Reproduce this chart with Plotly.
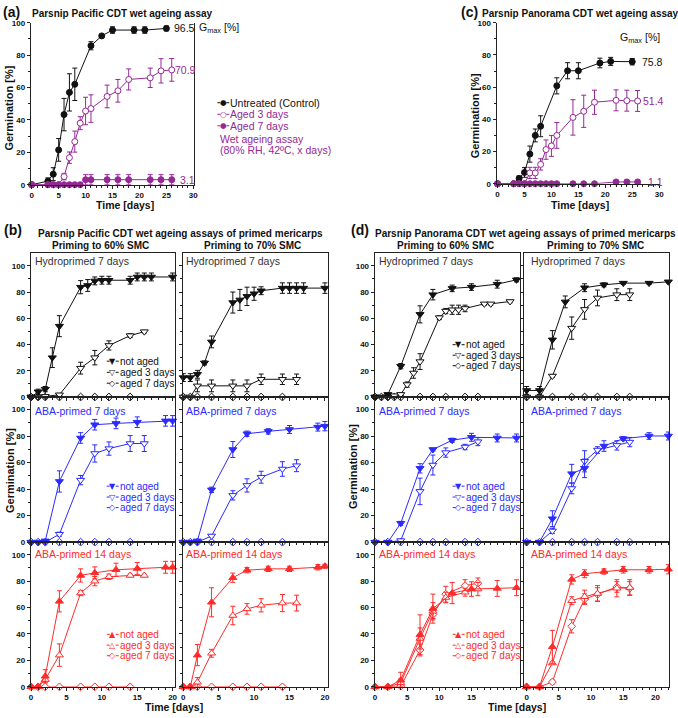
import plotly.graph_objects as go

# ---------------- data ----------------
# (a) Parsnip Pacific CDT wet ageing assay
a_days_ctrl = [0, 3, 4, 5, 6, 7, 8, 11, 13, 15, 19, 21, 25]
a_ctrl = [0, 2.2, 6.5, 21.5, 43.3, 57, 62, 85.8, 91.9, 95.5, 95.5, 95.5, 96.5]
a_ctrl_err = [0, 2, 4, 7, 10, 11.5, 10, 2.5, 1, 2, 2, 2, 1.5]
a_days_aged = [0, 3, 4, 5, 6, 7, 8, 9, 10, 11, 14, 16, 18, 22, 24, 26]
a_aged3 = [0, 0, 0, 0, 5, 16.7, 26.6, 38, 45.5, 47, 54.5, 58, 65, 66, 70.3, 70.9]
a_aged3_err = [0, 0, 0, 0, 2, 3.5, 6.5, 4, 8.5, 8.5, 7, 7, 6.5, 6, 7.5, 7]
a_aged7 = [0, 0, 0, 0, 0, 0, 0, 0, 3.1, 3.1, 3.1, 3.1, 3.1, 3.1, 3.1, 3.1]
a_aged7_err = [0, 0, 0, 0, 0, 0, 0, 0, 3.1, 3.1, 3.1, 3.1, 3.1, 3.1, 3.1, 3.1]
a_gmax = ["96.5", "70.9", "3.1"]

# (c) Parsnip Panorama CDT wet ageing assay
c_days_ctrl = [0, 3, 4, 5, 6, 7, 8, 11, 13, 15, 19, 21, 25]
c_ctrl = [0, 0, 3.3, 7, 18.4, 30, 35.7, 60.8, 70.2, 70.2, 75, 76, 75.8]
c_ctrl_err = [0, 0, 1.5, 3, 5, 4, 6.5, 5, 5, 5, 3, 2.5, 2]
c_days_aged = [0, 3, 4, 5, 6, 7, 8, 9, 10, 11, 14, 16, 18, 22, 24, 26]
c_aged3 = [0, 0, 0, 0, 6.7, 6.7, 12, 21.2, 23.5, 30, 41.2, 45, 50.6, 51.8, 51.6, 51.4]
c_aged3_err = [0, 0, 0, 0, 3.5, 3.5, 3.5, 6, 6.5, 8, 11, 10, 7.5, 6.5, 6.5, 6.5]
c_aged7 = [0, 0, 0, 0, 0, 0, 0, 0, 0, 0, 0, 0, 0, 1.1, 1.1, 1.1]
c_aged7_err = [0, 0, 0, 0, 0, 0, 0, 0, 0, 0, 0, 0, 0, 1, 1, 1]
c_gmax = ["75.8", "51.4", "1.1"]

# (b) Parsnip Pacific primed mericarps
b_days_na = [0, 1, 2, 4, 7, 9, 12, 15, 19, 20]
b_days_hna = [0, 1, 2, 3, 4, 7, 8, 9, 10, 11, 14, 15, 16, 17, 20]
b_days_a3 = [0, 1, 2, 4, 7, 9, 11, 14, 16]
b_days_a7 = [0, 1, 2, 4, 7, 9, 11, 14]
b_a7 = [0, 0, 0, 0, 0, 0, 0, 0]

b_h60_na = [0, 4, 6, 30, 54, 83.7, 85, 88.5, 89, 89, 89, 91.5, 91.5, 91.5, 91.5]
b_h60_na_err = [0, 2, 2, 7.5, 8, 5, 4.5, 3, 3, 3, 3, 3, 3, 3, 3]
b_h60_a3 = [0, 0, 0.5, 1.7, 22, 30, 39.3, 46.8, 49.8]
b_h60_a3_err = [0, 0, 0, 1, 4.5, 5.5, 3.5, 1.5, 1]
b_h70_na = [14.8, 14.8, 17.3, 26, 42, 72, 74, 76.7, 78.7, 81, 83, 83, 83, 83, 83]
b_h70_na_err = [3, 3, 3, 1.5, 4.5, 8, 8, 7, 5, 3, 4, 4, 4, 4, 4]
b_h70_a3 = [0, 0, 8.5, 8.5, 8.5, 8.5, 13.5, 13.5, 13.5]
b_h70_a3_err = [0, 0, 4.5, 4.5, 4.5, 4.5, 4, 4, 4]

b_b760_na = [0, 0, 1, 45.8, 78.6, 88.6, 89.6, 90.5, 91.5, 91.5]
b_b760_na_err = [0, 0, 1, 8, 4, 4, 4, 4, 4, 4]
b_b760_a3 = [0, 0, 0, 6, 46.8, 66.9, 70.6, 74.4, 74.4]
b_b760_a3_err = [0, 0, 0, 1.5, 3.5, 6.5, 5, 6, 6]
b_b770_na = [0, 0, 1, 39.5, 69.9, 81.8, 83.6, 85, 86.8, 87.5]
b_b770_na_err = [0, 0, 1, 2, 6, 2, 2, 3, 3, 3.5]
b_b770_a3 = [0, 0, 0, 4.7, 35.3, 42.8, 49, 55.2, 57.7]
b_b770_a3_err = [0, 0, 0, 1, 3.5, 5, 4.5, 5.5, 4.5]

b_b1460_na = [0, 0, 8, 64.7, 84.3, 86.3, 88.6, 89.6, 90.5, 90.5]
b_b1460_na_err = [0, 0, 5, 8, 5, 4.5, 5, 4.5, 4.5, 4.5]
b_b1460_a3 = [0, 0, 5.5, 24, 71, 80, 83.3, 84.3, 84.3]
b_b1460_a3_err = [0, 0, 2, 8.5, 2, 3.5, 2, 1, 1]
b_b1470_na = [0, 0, 24, 64, 82.6, 88.3, 89.3, 89.3, 90.5, 91.3]
b_b1470_na_err = [0, 0, 8, 11, 3.5, 2, 2, 2, 2, 1.5]
b_b1470_a3 = [0, 0, 3.5, 25.4, 54, 59, 61.7, 63.4, 63.4]
b_b1470_a3_err = [0, 0, 3.5, 3, 7, 4, 5, 6.5, 6]

# (d) Parsnip Panorama primed mericarps
d_days_na = [0, 2, 4, 7, 9, 12, 15, 19, 22]
d_days_a3 = [0, 2, 4, 7, 9, 11, 14, 16]
d_days_a7 = [0, 2, 4, 7, 9, 11, 14, 16]
d_a7_zero = [0, 0, 0, 0, 0, 0, 0, 0]

d_h60_na = [0, 2, 23.5, 63, 78, 82.8, 83.8, 86, 89.3]
d_h60_na_err = [0, 1, 2, 6.5, 4, 2.5, 2.5, 3, 1.5]
d_h60_days_a3 = [0, 1, 2, 3, 4, 5, 6, 7, 10, 11, 12, 13, 14, 17, 18, 21]
d_h60_a3 = [0, 0, 0, 1, 2, 9.5, 18.3, 27, 60.5, 65.5, 66.5, 66.5, 67.5, 71, 71, 72.8]
d_h60_a3_err = [0, 0, 0, 0.5, 1, 2, 4, 6, 1.5, 2, 3.5, 3.5, 2.5, 1, 1, 1]
d_h60_days_a7 = [0, 1, 2, 3, 4, 7, 9, 11, 14, 16]
d_h60_a7 = [0, 0, 0, 0, 0, 0, 0, 0, 0, 0]
d_h70_days_na = [0, 2, 4, 6, 9, 12, 15, 19, 22]
d_h70_na = [5, 5, 43.6, 72.5, 83.3, 85.5, 86.8, 86.8, 87.8]
d_h70_na_err = [3, 3, 7, 4.5, 3, 1.5, 1, 1, 1]
d_h70_a3 = [0, 0, 16, 52.5, 66.8, 75.5, 78, 78]
d_h70_a3_err = [0, 0, 1, 8.5, 7.5, 6, 4.5, 4.5]

d_b760_na = [0, 0, 14.2, 55.7, 69.9, 76.9, 79.1, 78.6, 78.6]
d_b760_na_err = [0, 0, 1.5, 3.5, 1, 1.5, 3, 3, 3]
d_b760_a3 = [0, 0, 1.2, 38.3, 58.2, 67.6, 71.8, 75.8]
d_b760_a3_err = [0, 0, 1, 10, 7.5, 3.5, 2, 3]
d_b770_na = [0, 0, 17.7, 51.7, 55.7, 72.5, 78.1, 80.1, 80.1]
d_b770_na_err = [0, 0, 6, 7, 7, 4, 1.5, 2.5, 3]
d_b770_a3 = [0, 0, 8.5, 40.5, 61, 69.5, 73, 75.5]
d_b770_a3_err = [0, 0, 2, 4, 8, 2.5, 3.5, 3.5]

d_b1460_na = [0, 0, 5, 39.5, 59.2, 71, 74, 74.5, 75]
d_b1460_na_err = [0, 0, 6, 15, 11, 8, 5.5, 6, 6]
d_b1460_a3 = [0, 0, 3, 36.6, 57.2, 67.6, 71.6, 74]
d_b1460_a3_err = [0, 0, 3, 8, 6.5, 4, 3, 5]
d_b1460_a7 = [0, 0, 0.5, 27.9, 54.7, 70.1, 76.6, 78.4]
d_b1460_a7_err = [0, 0, 0.5, 4.5, 3, 6, 4.5, 4]
d_b1470_na = [0, 0, 30.3, 81.3, 85.6, 87.3, 88.6, 88.6, 89]
d_b1470_na_err = [0, 0, 12.5, 3.5, 3, 2, 2.5, 2.5, 3.5]
d_b1470_a3 = [0, 0, 18, 65.2, 68.2, 70.6, 74.6, 75.1]
d_b1470_a3_err = [0, 0, 1, 3, 5, 6, 6.5, 6]
d_b1470_a7 = [0, 0, 3.7, 45.8, 66.4, 70, 75.6, 74.6]
d_b1470_a7_err = [0, 0, 1.5, 5, 4, 5, 4, 5]

y_ticks = [0, 20, 40, 60, 80, 100]
y_minor = [10, 30, 50, 70, 90]

# ---------------- styling ----------------
W, H = 678, 718
def X(px): return px / W
def Y(py): return 1 - py / H

BLACK = '#111111'
PURPLE = '#962896'
BLUE = '#2B2BFF'
RED = '#FF2B2B'
GREY = '#333333'
LINEC = '#222222'
FONT = 'Liberation Sans'
TICKFONT = dict(family=FONT, size=8, weight='bold', color='#111111')

fig = go.Figure()
lay = dict(width=W, height=H, margin=dict(l=0, r=0, t=0, b=0),
           paper_bgcolor='white', plot_bgcolor='white', showlegend=False)
annotations = []
shapes = []


def ids(n):
    return ('x' if n == 1 else f'x{n}'), ('y' if n == 1 else f'y{n}')


def make_axes(n, xpx, ypy, xr, yr, xlabels=True, ylabels=True, box=True,
              ymirror=False, xtickvals=None, xmax_minor=30):
    xid, yid = ids(n)
    xk = 'xaxis' if n == 1 else f'xaxis{n}'
    yk = 'yaxis' if n == 1 else f'yaxis{n}'
    if xtickvals is None:
        xtickvals = list(range(0, int(xr[1]) + 1, 5))
    minor_vals = [v for v in range(0, xmax_minor + 1) if v not in xtickvals]
    lay[xk] = dict(domain=[X(xpx[0]), X(xpx[1])], range=xr, anchor=yid,
                   showgrid=False, zeroline=False, showline=True,
                   linecolor=LINEC, linewidth=1, mirror=box,
                   ticks='outside', ticklen=3, tickwidth=1, tickcolor=LINEC,
                   tickmode='array', tickvals=xtickvals,
                   showticklabels=xlabels, tickfont=TICKFONT,
                   minor=dict(tickmode='array', tickvals=minor_vals,
                              ticks='outside', ticklen=2, tickcolor=LINEC,
                              showgrid=False))
    lay[yk] = dict(domain=[Y(ypy[1]), Y(ypy[0])], range=yr, anchor=xid,
                   showgrid=False, zeroline=False, showline=True,
                   linecolor=LINEC, linewidth=1, mirror=(box or ymirror),
                   ticks='outside', ticklen=3, tickwidth=1, tickcolor=LINEC,
                   tickmode='array', tickvals=y_ticks,
                   showticklabels=ylabels, tickfont=TICKFONT,
                   minor=dict(tickmode='array', tickvals=y_minor,
                              ticks='outside', ticklen=2, tickcolor=LINEC,
                              showgrid=False))


def add(n, x, y, err, color, symbol, filled, size=7):
    xid, yid = ids(n)
    tr = go.Scatter(x=x, y=y, xaxis=xid, yaxis=yid, mode='lines+markers',
                    line=dict(color=color, width=1),
                    marker=dict(symbol=symbol, size=size,
                                color=color if filled else 'white',
                                line=dict(color=color, width=1)),
                    cliponaxis=False, hoverinfo='skip')
    if err is not None:
        e = [v if v else None for v in err]
        tr.error_y = dict(type='data', array=e, color=color, thickness=1,
                          width=2.5, visible=True)
    fig.add_trace(tr)


def txt(text, px, py, size=10, color=BLACK, bold=False, xanchor='left',
        angle=0, family=FONT):
    annotations.append(dict(text=text, x=X(px), y=Y(py), xref='paper',
                            yref='paper', xanchor=xanchor, yanchor='middle',
                            showarrow=False, textangle=angle, borderpad=0,
                            font=dict(family=family, size=size, color=color,
                                      weight='bold' if bold else 'normal')))


def dtxt(n, text, x, y, color, size=10.5):
    xid, yid = ids(n)
    annotations.append(dict(text=text, x=x, y=y, xref=xid, yref=yid,
                            xanchor='center', yanchor='middle',
                            showarrow=False, borderpad=0,
                            font=dict(family=FONT, size=size, color=color)))


def legend_entry(mx, my, glyph, text, color, gsize=8, tsize=10):
    for a, b in ((mx - 6, mx - 3), (mx + 3, mx + 6)):
        shapes.append(dict(type='line', xref='paper', yref='paper',
                           x0=X(a), x1=X(b), y0=Y(my), y1=Y(my),
                           line=dict(color=color, width=1)))
    annotations.append(dict(text=glyph, x=X(mx), y=Y(my), xref='paper',
                            yref='paper', xanchor='center', yanchor='middle',
                            showarrow=False, borderpad=0,
                            font=dict(family='DejaVu Sans', size=gsize,
                                      color=color)))
    annotations.append(dict(text=text, x=X(mx + 6), y=Y(my), xref='paper',
                            yref='paper', xanchor='left', yanchor='middle',
                            showarrow=False, borderpad=0,
                            font=dict(family=FONT, size=tsize, color=color)))


# ---------------- panel (a) ----------------
make_axes(1, (29, 194), (19, 183), [-0.18, 30.18], [0, 100], box=False,
          ymirror=True)
add(1, a_days_ctrl, a_ctrl, a_ctrl_err, BLACK, 'circle', True, 6)
add(1, a_days_aged, a_aged3, a_aged3_err, PURPLE, 'circle', False, 6)
add(1, a_days_aged, a_aged7, a_aged7_err, PURPLE, 'circle', True, 6)
dtxt(1, a_gmax[0], 28.4, a_ctrl[-1], BLACK)
dtxt(1, a_gmax[1], 28.6, a_aged3[-1], PURPLE)
dtxt(1, a_gmax[2], 29.0, a_aged7[-1], PURPLE)
txt('G<sub>max</sub> [%]', 219, 24, size=10.5, xanchor='center')

# ---------------- panel (c) ----------------
make_axes(2, (499, 664), (19, 182), [-0.18, 30.18], [0, 100], box=False)
add(2, c_days_ctrl, c_ctrl, c_ctrl_err, BLACK, 'circle', True, 6)
add(2, c_days_aged, c_aged3, c_aged3_err, PURPLE, 'circle', False, 6)
add(2, c_days_aged, c_aged7, c_aged7_err, PURPLE, 'circle', True, 6)
dtxt(2, c_gmax[0], 28.8, c_ctrl[-1], BLACK)
dtxt(2, c_gmax[1], 29.0, c_aged3[-1], PURPLE)
dtxt(2, c_gmax[2], 29.3, c_aged7[-1], PURPLE)
txt('G<sub>max</sub> [%]', 644, 34, size=10.5, xanchor='center')

# ---------------- panels (b) and (d) axes ----------------
ROWS = [(252.5, 398), (398, 545), (545, 691.5)]
BL, BR = (29, 175), (182.5, 329)
DL, DR = (376, 523), (526.7, 673.3)

n = 3
panels = {}
for r, rows in enumerate(ROWS):
    bottom = (r == 2)
    make_axes(n, BL, rows, [-0.05, 20.4], [0, 109.5], xlabels=bottom,
              ylabels=True, xmax_minor=20)
    panels[('b', r, 0)] = n; n += 1
    make_axes(n, BR, rows, [-0.05, 20.45], [0, 109.5], xlabels=bottom,
              ylabels=False, xmax_minor=20)
    panels[('b', r, 1)] = n; n += 1
    make_axes(n, DL, rows, [-0.05, 22.6], [0, 109.5], xlabels=bottom,
              ylabels=True, xtickvals=[0, 5, 10, 15], xmax_minor=22)
    panels[('d', r, 0)] = n; n += 1
    make_axes(n, DR, rows, [-0.4, 22.15], [0, 109.5], xlabels=bottom,
              ylabels=False, xmax_minor=22)
    panels[('d', r, 1)] = n; n += 1

# (b) row 1: hydroprimed
p = panels[('b', 0, 0)]
add(p, b_days_a7, b_a7, None, BLACK, 'diamond', False, 6)
add(p, b_days_a3, b_h60_a3, b_h60_a3_err, BLACK, 'triangle-down', False, 7)
add(p, b_days_hna, b_h60_na, b_h60_na_err, BLACK, 'triangle-down', True, 7)
p = panels[('b', 0, 1)]
add(p, b_days_a7, b_a7, None, BLACK, 'diamond', False, 6)
add(p, b_days_a3, b_h70_a3, b_h70_a3_err, BLACK, 'triangle-down', False, 7)
add(p, b_days_hna, b_h70_na, b_h70_na_err, BLACK, 'triangle-down', True, 7)
# (b) row 2: ABA 7 days
p = panels[('b', 1, 0)]
add(p, b_days_a7, b_a7, None, BLUE, 'diamond', False, 6)
add(p, b_days_a3, b_b760_a3, b_b760_a3_err, BLUE, 'triangle-down', False, 7)
add(p, b_days_na, b_b760_na, b_b760_na_err, BLUE, 'triangle-down', True, 7)
p = panels[('b', 1, 1)]
add(p, b_days_a7, b_a7, None, BLUE, 'diamond', False, 6)
add(p, b_days_a3, b_b770_a3, b_b770_a3_err, BLUE, 'triangle-down', False, 7)
add(p, b_days_na, b_b770_na, b_b770_na_err, BLUE, 'triangle-down', True, 7)
# (b) row 3: ABA 14 days
p = panels[('b', 2, 0)]
add(p, b_days_a7, b_a7, None, RED, 'diamond', False, 6)
add(p, b_days_a3, b_b1460_a3, b_b1460_a3_err, RED, 'triangle-up', False, 7)
add(p, b_days_na, b_b1460_na, b_b1460_na_err, RED, 'triangle-up', True, 7)
p = panels[('b', 2, 1)]
add(p, b_days_a7, b_a7, None, RED, 'diamond', False, 6)
add(p, b_days_a3, b_b1470_a3, b_b1470_a3_err, RED, 'triangle-up', False, 7)
add(p, b_days_na, b_b1470_na, b_b1470_na_err, RED, 'triangle-up', True, 7)

# (d) row 1
p = panels[('d', 0, 0)]
add(p, d_h60_days_a7, d_h60_a7, None, BLACK, 'diamond', False, 6)
add(p, d_h60_days_a3, d_h60_a3, d_h60_a3_err, BLACK, 'triangle-down', False, 7)
add(p, d_days_na, d_h60_na, d_h60_na_err, BLACK, 'triangle-down', True, 7)
p = panels[('d', 0, 1)]
add(p, d_days_a7, d_a7_zero, None, BLACK, 'diamond', False, 6)
add(p, d_days_a3, d_h70_a3, d_h70_a3_err, BLACK, 'triangle-down', False, 7)
add(p, d_h70_days_na, d_h70_na, d_h70_na_err, BLACK, 'triangle-down', True, 7)
# (d) row 2
p = panels[('d', 1, 0)]
add(p, d_days_a7, d_a7_zero, None, BLUE, 'diamond', False, 6)
add(p, d_days_a3, d_b760_a3, d_b760_a3_err, BLUE, 'triangle-down', False, 7)
add(p, d_days_na, d_b760_na, d_b760_na_err, BLUE, 'triangle-down', True, 7)
p = panels[('d', 1, 1)]
add(p, d_days_a7, d_a7_zero, None, BLUE, 'diamond', False, 6)
add(p, d_days_a3, d_b770_a3, d_b770_a3_err, BLUE, 'triangle-down', False, 7)
add(p, d_days_na, d_b770_na, d_b770_na_err, BLUE, 'triangle-down', True, 7)
# (d) row 3
p = panels[('d', 2, 0)]
add(p, d_days_a7, d_b1460_a7, d_b1460_a7_err, RED, 'diamond', False, 6)
add(p, d_days_a3, d_b1460_a3, d_b1460_a3_err, RED, 'triangle-up', False, 7)
add(p, d_days_na, d_b1460_na, d_b1460_na_err, RED, 'triangle-up', True, 7)
p = panels[('d', 2, 1)]
add(p, d_days_a7, d_b1470_a7, d_b1470_a7_err, RED, 'diamond', False, 6)
add(p, d_days_a3, d_b1470_a3, d_b1470_a3_err, RED, 'triangle-up', False, 7)
add(p, d_days_na, d_b1470_na, d_b1470_na_err, RED, 'triangle-up', True, 7)

# ---------------- text ----------------
txt('(a)', 0, 8, size=14, bold=True)
txt('Parsnip Pacific CDT wet ageing assay', 29, 10, size=10, bold=True)
txt('(c)', 462, 8, size=14, bold=True)
txt('Parsnip Panorama CDT wet ageing assay', 483, 10, size=10, bold=True)
txt('(b)', 1, 229, size=14, bold=True)
txt('Parsnip Pacific CDT wet ageing assays of primed mericarps', 180, 232,
    size=10, bold=True, xanchor='center')
txt('Priming to 60% SMC', 99, 244.5, size=10, bold=True, xanchor='center')
txt('Priming to 70% SMC', 252.5, 244.5, size=10, bold=True, xanchor='center')
txt('(d)', 351, 229, size=14, bold=True)
txt('Parsnip Panorama CDT wet ageing assays of primed mericarps', 528, 232,
    size=10, bold=True, xanchor='center')
txt('Priming to 60% SMC', 447, 244.5, size=10, bold=True, xanchor='center')
txt('Priming to 70% SMC', 598.5, 244.5, size=10, bold=True, xanchor='center')

# axis titles
txt('Germination [%]', 7, 105, size=11, bold=True, xanchor='center', angle=-90)
txt('Time [days]', 124, 204, size=10.5, bold=True, xanchor='center')
txt('Germination [%]', 477, 113, size=11, bold=True, xanchor='center', angle=-90)
txt('Time [days]', 583, 204, size=10.5, bold=True, xanchor='center')
txt('Germination [%]', 8, 472, size=11, bold=True, xanchor='center', angle=-90)
txt('Time [days]', 174, 712, size=10.5, bold=True, xanchor='center')
txt('Germination [%]', 354, 468, size=11, bold=True, xanchor='center', angle=-90)
txt('Time [days]', 520, 712, size=10.5, bold=True, xanchor='center')

# row labels
row_labels = [('Hydroprimed 7 days', GREY, 260), ('ABA-primed 7 days', BLUE, 411.7),
              ('ABA-primed 14 days', RED, 557.3)]
for label, col, py in row_labels:
    for px in (32, 185, 379, 533):
        txt(label, px, py, size=10.5, color=col)

# legends
legend_entry(223.3, 100, '●', 'Untreated (Control)', BLACK, gsize=7.5, tsize=10.5)
legend_entry(223.3, 111.7, '○', 'Aged 3 days', PURPLE, gsize=7.5, tsize=10.5)
legend_entry(223.3, 123.3, '●', 'Aged 7 days', PURPLE, gsize=7.5, tsize=10.5)
txt('Wet ageing assay', 219, 136.7, size=10.5, color=PURPLE)
txt('(80% RH, 42ºC, x days)', 219, 148.3, size=10.5, color=PURPLE)

leg_rows = [
    (BLACK, '▼', '▽', [361.7, 373, 384], [345, 355.7, 366.3]),
    (BLUE, '▼', '▽', [488.3, 499.3, 510], [488.3, 499.3, 510]),
    (RED, '▲', '△', [638.3, 649.3, 660], [638.3, 649.3, 660]),
]
for col, g1, g2, ysb, ysd in leg_rows:
    for mx, ys in ((111.7, ysb), (460.7, ysd)):
        legend_entry(mx, ys[0], g1, 'not aged', col)
        legend_entry(mx, ys[1], g2, 'aged 3 days', col)
        legend_entry(mx, ys[2], '◇', 'aged 7 days', col)

lay['annotations'] = annotations
lay['shapes'] = shapes
fig.update_layout(**lay)
fig.write_html('out.html')
